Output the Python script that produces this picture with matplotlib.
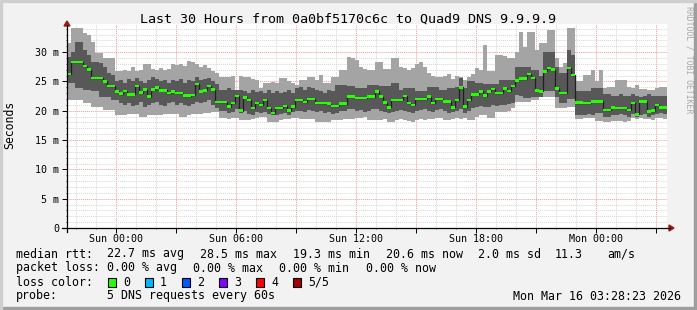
import matplotlib
matplotlib.use("Agg")
import matplotlib.pyplot as plt
import matplotlib.dates as mdates
import numpy as np
from matplotlib.lines import Line2D
from matplotlib.patches import Polygon, Rectangle

# 12 minute steps, 30 hours
start = np.datetime64('2026-03-14T21:33')
step_min = 12

# smoke: min, 2nd, median, 4th, max of 5 DNS requests (ms)
lo = [21.8, 21.8, 21.8, 21.8, 21.3, 21.3, 20.7, 20.7, 20.7, 20.1,
      20.1, 20.1, 19.2, 19.2, 19.2, 19.4, 19.4, 19.4, 18.9, 18.9,
      19.2, 19.2, 19.3, 19.2, 19.4, 19.4, 19.4, 19.4, 19.0, 19.0,
      19.2, 19.4, 19.4, 19.4, 19.6, 19.6, 19.8, 19.8, 18.8, 18.8,
      18.6, 18.8, 18.8, 18.5, 18.4, 18.4, 18.6, 18.8, 19.0, 19.0,
      18.1, 18.1, 18.1, 18.4, 18.6, 18.6, 18.8, 18.8, 18.6, 18.6,
      18.6, 18.6, 18.1, 18.1, 18.1, 18.1, 18.4, 18.4, 18.4, 18.6,
      18.6, 18.6, 18.8, 18.8, 19.0, 18.5, 18.5, 18.4, 18.4, 18.6,
      18.1, 18.1, 18.4, 18.6, 18.4, 18.2, 18.0, 18.4, 18.6, 18.4,
      18.6, 18.6, 18.8, 18.8, 18.5, 18.5, 18.6, 18.8, 18.6, 18.8,
      18.4, 18.4, 19.0, 19.3, 19.3, 18.8, 18.8, 19.8, 19.8, 19.8,
      20.0, 20.5, 21.5, 21.5, 21.5, 21.5, 21.8, 21.8, 22.4, 22.4,
      22.4, 22.4, 20.5, 20.5, 20.5, 20.6, 20.6, 18.6, 18.6, 18.8,
      18.8, 18.8, 18.3, 18.3, 18.0, 18.0, 18.2, 18.3, 18.3, 18.0,
      18.3, 18.8, 18.6, 18.8, 18.6, 18.6, 18.5, 18.8, 18.8, 18.6]

q1 = [24.7, 24.7, 23.9, 23.9, 23.6, 23.6, 23.3, 23.3, 22.4, 22.4,
      22.4, 21.8, 21.8, 21.3, 21.0, 21.3, 20.8, 21.0, 21.5, 20.7,
      21.0, 21.3, 21.5, 21.0, 20.8, 21.3, 21.5, 21.0, 21.3, 21.0,
      20.8, 21.2, 21.5, 21.3, 21.5, 21.8, 21.0, 20.5, 19.9, 19.9,
      19.6, 19.8, 20.3, 19.6, 19.9, 19.5, 19.3, 19.8, 19.6, 19.8,
      19.5, 19.3, 19.3, 19.5, 19.6, 19.3, 19.8, 19.9, 20.0, 19.8,
      20.1, 20.0, 19.8, 19.9, 19.6, 19.8, 19.5, 19.6, 20.0, 19.9,
      20.3, 20.3, 20.0, 20.1, 19.8, 20.0, 20.3, 20.3, 20.0, 19.8,
      19.6, 19.8, 20.0, 20.2, 20.0, 19.8, 19.6, 20.0, 20.2, 20.3,
      20.0, 19.8, 20.1, 20.3, 20.0, 19.6, 19.8, 20.0, 20.3, 19.6,
      20.0, 20.5, 20.6, 20.8, 20.6, 20.6, 21.0, 20.8, 21.0, 21.0,
      21.2, 21.3, 22.7, 22.5, 22.2, 22.2, 22.4, 22.4, 22.4, 23.3,
      23.3, 23.3, 22.4, 21.3, 21.3, 22.0, 22.0, 19.3, 19.3, 19.3,
      19.5, 19.3, 19.6, 19.6, 19.0, 19.0, 19.3, 19.3, 19.5, 19.3,
      19.0, 19.5, 19.0, 19.3, 19.5, 19.0, 19.3, 19.5, 19.6, 19.5]

med = [26.3, 28.3, 28.3, 28.3, 27.6, 27.0, 25.6, 25.6, 25.6, 25.0,
       24.2, 24.2, 23.3, 22.9, 23.4, 22.8, 22.8, 24.2, 23.1, 23.6,
       22.4, 23.6, 24.0, 23.5, 23.5, 23.0, 23.3, 23.0, 23.0, 22.6,
       22.6, 22.7, 24.6, 23.3, 23.5, 24.2, 23.6, 21.5, 21.5, 21.5,
       20.7, 21.3, 22.5, 20.0, 22.3, 21.8, 20.5, 21.3, 21.0, 21.8,
       20.5, 19.6, 20.5, 20.5, 20.8, 20.0, 20.7, 21.8, 21.8, 21.5,
       22.0, 22.0, 21.3, 21.3, 21.3, 21.2, 20.8, 20.8, 21.2, 21.2,
       22.4, 22.4, 22.2, 22.2, 22.2, 22.4, 22.4, 23.3, 22.4, 21.4,
       20.6, 21.8, 21.8, 21.8, 22.5, 21.3, 21.0, 22.0, 22.0, 22.0,
       22.4, 21.3, 22.0, 22.0, 21.6, 21.6, 20.6, 21.8, 24.0, 20.7,
       21.8, 22.8, 22.8, 23.3, 22.6, 23.3, 23.7, 23.0, 23.0, 23.8,
       23.4, 24.2, 25.2, 25.5, 25.5, 26.3, 25.6, 23.5, 23.3, 26.7,
       27.3, 27.0, 23.8, 23.0, 23.0, 27.3, 26.1, 21.4, 21.4, 21.3,
       21.3, 21.6, 21.6, 21.6, 20.1, 20.1, 20.6, 20.5, 20.5, 20.5,
       20.1, 21.3, 19.4, 21.6, 21.6, 19.9, 20.0, 21.0, 20.6, 20.6]

q3 = [29.2, 30.1, 31.8, 31.8, 30.4, 29.5, 28.3, 28.3, 28.1, 27.5,
      26.5, 26.1, 25.0, 25.2, 24.8, 25.5, 25.0, 25.6, 25.0, 24.8,
      25.3, 25.8, 25.5, 25.0, 25.3, 24.8, 25.3, 25.0, 25.5, 24.8,
      25.2, 25.0, 25.8, 25.3, 25.5, 25.6, 25.0, 24.5, 23.5, 23.5,
      23.8, 23.5, 23.5, 23.5, 23.3, 23.0, 23.5, 23.2, 23.3, 23.0,
      23.5, 23.0, 23.3, 23.0, 23.2, 23.5, 23.0, 23.8, 24.0, 23.5,
      24.0, 23.8, 23.5, 23.3, 23.0, 23.5, 23.3, 24.4, 24.4, 24.4,
      24.2, 24.2, 23.9, 23.9, 23.9, 24.4, 24.4, 24.4, 24.2, 24.2,
      24.2, 24.7, 24.7, 23.5, 23.8, 23.8, 23.8, 23.3, 23.3, 23.3,
      24.0, 24.0, 24.0, 23.5, 23.5, 23.8, 23.8, 24.0, 25.6, 23.8,
      25.0, 25.0, 24.8, 24.8, 24.6, 24.6, 24.6, 24.5, 25.2, 25.2,
      25.2, 25.2, 27.5, 27.5, 27.5, 27.5, 27.0, 27.0, 26.0, 30.1,
      30.1, 30.1, 27.5, 26.4, 26.4, 30.4, 29.5, 23.3, 23.3, 23.3,
      23.3, 23.8, 23.8, 23.8, 22.8, 22.8, 22.5, 22.6, 22.8, 22.6,
      22.5, 22.8, 22.5, 22.3, 22.6, 22.8, 22.5, 22.6, 22.6, 22.6]

hi = [31.6, 34.1, 34.1, 34.1, 33.3, 33.0, 31.7, 29.8, 29.8, 29.0,
      29.0, 29.0, 26.7, 26.7, 27.0, 26.7, 27.5, 26.8, 27.0, 28.0,
      28.0, 27.2, 27.0, 27.3, 27.0, 27.2, 28.0, 27.8, 28.0, 27.6,
      28.5, 28.3, 28.0, 27.5, 27.8, 27.3, 26.8, 26.5, 25.8, 25.8,
      25.8, 26.0, 23.6, 26.0, 25.7, 25.7, 25.5, 25.3, 23.9, 24.7,
      24.7, 24.9, 24.7, 25.6, 25.6, 25.0, 24.8, 24.4, 25.2, 25.2,
      25.8, 25.8, 25.2, 26.1, 24.8, 24.7, 25.8, 25.8, 27.0, 27.0,
      29.2, 29.0, 28.7, 27.5, 27.2, 27.0, 27.0, 28.3, 28.3, 27.2,
      27.2, 29.0, 29.0, 27.5, 27.3, 27.0, 27.3, 28.0, 28.3, 27.5,
      26.5, 26.0, 25.8, 25.8, 26.0, 26.2, 25.5, 26.0, 25.8, 25.3,
      25.8, 26.3, 27.3, 27.0, 31.2, 26.7, 26.7, 29.5, 29.5, 29.3,
      29.0, 29.0, 30.0, 33.5, 30.9, 33.5, 33.5, 30.4, 31.6, 31.6,
      33.8, 33.8, 29.0, 27.5, 28.1, 34.1, 34.1, 25.0, 25.0, 26.1,
      26.1, 27.0, 25.0, 27.0, 23.9, 24.0, 24.0, 25.2, 25.2, 25.2,
      24.0, 23.9, 24.4, 23.7, 23.7, 23.5, 23.5, 23.9, 24.1, 24.1]

loss_labels = ['0', '1', '2', '3', '4', '5/5']
loss_colors = ['#26ff00', '#00b8ff', '#0059ff', '#7e00ff', '#ff0000', '#a10000']

W, H = 697, 310
MONO = 'DejaVu Sans Mono'
plt.rcParams['font.family'] = MONO


def fx(px):
    return px / W


def fy(py):
    return 1 - py / H


def ext(a):
    a = np.asarray(a, dtype=float)
    return np.append(a, a[-1])


t = start + np.arange(len(med) + 1) * np.timedelta64(step_min, 'm')
end = start + np.timedelta64(30, 'h')

fig = plt.figure(figsize=(W / 100, H / 100), dpi=100, facecolor='#f2f2f2')
ax = fig.add_axes([fx(67), fy(228), fx(667) - fx(67), fy(24) - fy(228)])
ax.set_facecolor('white')

# smoke
ax.fill_between(t, ext(lo), ext(hi), step='post', color='#a4a4a4', lw=0, zorder=2)
ax.fill_between(t, ext(q1), ext(q3), step='post', color='#585858', lw=0, zorder=3)
# median: dark line, loss coloured bar on top
ax.step(t, ext(med), where='post', color='#202020', lw=0.9, zorder=4)
ax.fill_between(t, ext(med) - 0.22, ext(med) + 0.22, step='post',
                color=loss_colors[0], lw=0, zorder=5)

ax.set_xlim(start, end)
ax.set_ylim(0, 34.8)

# grid
ax.xaxis.set_major_locator(mdates.HourLocator(byhour=range(0, 24, 3)))
ax.xaxis.set_minor_locator(mdates.HourLocator())


def xfmt(v, pos):
    d = mdates.num2date(v)
    return d.strftime('%a %H:%M') if d.hour % 6 == 0 else ''


ax.xaxis.set_major_formatter(plt.FuncFormatter(xfmt))
ax.yaxis.set_major_locator(plt.MultipleLocator(5))
ax.yaxis.set_minor_locator(plt.MultipleLocator(1))
ax.yaxis.set_major_formatter(plt.FuncFormatter(lambda v, p: '0' if v == 0 else '%d m' % v))

ax.grid(which='minor', color='#d6d6d6', linestyle=(0, (1, 1)), lw=0.7, zorder=1)
ax.grid(which='major', color='#f09a9a', linestyle=(0, (1, 1)), lw=0.7, zorder=1)
ax.set_axisbelow(True)

ax.tick_params(axis='both', which='major', labelsize=7.2, length=3.5, width=0.7, pad=2,
               colors='black', direction='out')
ax.tick_params(axis='both', which='minor', length=1.0, width=0.5, direction='out')
ax.tick_params(axis='x', which='major', pad=1)

for s in ax.spines.values():
    s.set_visible(False)

# axes with arrows
fig.add_artist(Line2D([fx(62), fx(670)], [fy(228), fy(228)], color='black', lw=0.9))
fig.add_artist(Line2D([fx(67), fx(67)], [fy(232), fy(25)], color='black', lw=0.9))
fig.add_artist(Polygon([[fx(669), fy(225)], [fx(674), fy(228)], [fx(669), fy(231)]],
                       closed=True, color='#a01818', transform=fig.transFigure))
fig.add_artist(Polygon([[fx(64), fy(26)], [fx(67), fy(21)], [fx(70), fy(26)]],
                       closed=True, color='#a01818', transform=fig.transFigure))

# frame shading
fig.add_artist(Rectangle((fx(694), 0), 3 / W, 1, color='#9e9e9e', transform=fig.transFigure))
fig.add_artist(Rectangle((0, 0), 1, 3 / H, color='#9e9e9e', transform=fig.transFigure))
fig.add_artist(Rectangle((0, 0), 2 / W, 1, color='#cfcfcf', transform=fig.transFigure))
fig.add_artist(Rectangle((0, fy(2)), 1, 2 / H, color='#cfcfcf', transform=fig.transFigure))

# texts
fig.text(0.5, fy(19), 'Last 30 Hours from 0a0bf5170c6c to Quad9 DNS 9.9.9.9',
         ha='center', va='center', fontsize=9.6)
fig.text(fx(10), fy(125), 'Seconds', rotation=90, ha='center', va='center', fontsize=8.3)
fig.text(fx(689), fy(6), 'RRDTOOL / TOBI OETIKER', rotation=270, ha='center', va='top',
         fontsize=5.9, color='#a8a8a8')

fs = 8.4
rows = [
    (254, [(16, 'median rtt:'), (107, '22.7 ms avg'), (200, '28.5 ms max'),
           (293, '19.3 ms min'), (386, '20.6 ms now'), (478, '2.0 ms sd'),
           (555, '11.3'), (607, 'am/s')]),
    (268, [(16, 'packet loss:'), (107, '0.00 % avg'), (193, '0.00 % max'),
           (279, '0.00 % min'), (366, '0.00 % now')]),
    (282, [(16, 'loss color:')]),
    (296, [(16, 'probe:'), (107, '5 DNS requests every 60s')]),
]
for y, items in rows:
    for x, s in items:
        fig.text(fx(x), fy(y), s, ha='left', va='center', fontsize=fs)

box_x = [108, 145, 182, 219, 256, 293]
for bx, lab, col in zip(box_x, loss_labels, loss_colors):
    fig.add_artist(Rectangle((fx(bx), fy(286.5)), 7.5 / W, 9 / H, facecolor=col,
                             edgecolor='black', lw=0.8, transform=fig.transFigure))
    fig.text(fx(bx + 15), fy(282), lab, ha='left', va='center', fontsize=fs)

fig.text(fx(681), fy(296), 'Mon Mar 16 03:28:23 2026', ha='right', va='center', fontsize=fs)

fig.savefig('out.png', dpi=100, facecolor=fig.get_facecolor())
